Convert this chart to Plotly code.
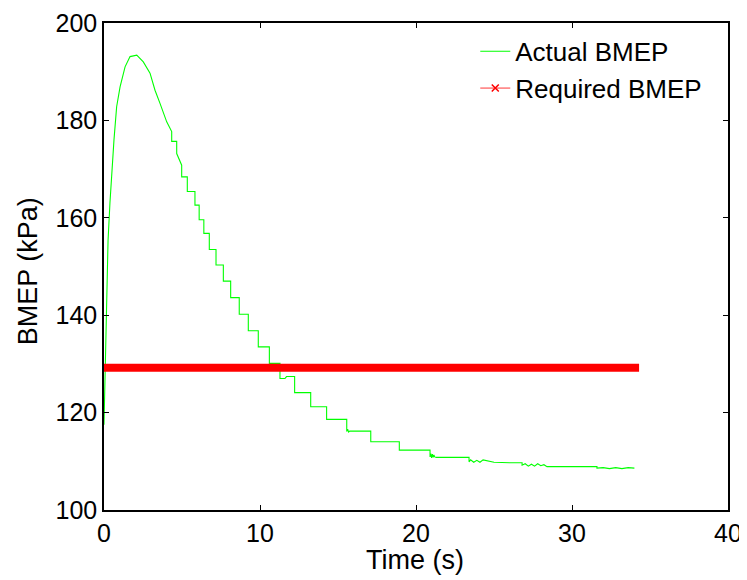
import plotly.graph_objects as go

# ---- data ----
actual_time = [
    0.0, 0.05, 0.10, 0.18, 0.26, 0.38, 0.49, 0.64, 0.81, 1.03, 1.35, 1.67, 2.10,
    2.52, 2.95, 3.27, 3.59, 4.02,
    4.34, 4.34, 4.66, 4.66, 4.98, 4.98, 5.34, 5.34, 5.83, 5.83, 6.10, 6.10,
    6.40, 6.40, 6.75, 6.75, 7.18, 7.18, 7.65, 7.65, 8.12, 8.12, 8.67, 8.67,
    9.25, 9.25, 9.89, 9.89, 10.60, 10.60, 11.28, 11.28, 11.60, 11.70,
    12.22, 12.22, 13.25, 13.25, 14.27, 14.27, 15.56, 15.56, 15.62, 15.68, 15.75,
    17.10, 17.10, 18.93, 18.93,
    20.90, 20.90, 20.95, 21.00, 21.05, 21.10, 21.15, 21.20, 21.30,
    23.40, 23.40, 23.50, 23.70, 23.90, 24.10, 24.30, 25.00, 26.00, 26.80,
    26.80, 27.00, 27.20, 27.40, 27.60, 27.80, 28.00, 28.20, 28.40,
    28.40, 31.60,
    31.60, 32.00, 32.40, 32.80, 33.20, 33.60, 34.00,
]
actual_bmep = [
    117.5, 125.0, 135.0, 147.0, 155.4, 163.0, 169.1, 176.0, 182.8, 186.9, 191.0, 193.1, 193.4,
    192.0, 189.7, 186.2, 183.5, 179.7,
    177.7, 175.7, 175.7, 173.2, 170.8, 168.4, 168.4, 165.4, 165.4, 162.6, 162.6, 159.6,
    159.6, 156.8, 156.8, 153.5, 153.5, 150.3, 150.3, 147.0, 147.0, 143.6, 143.6, 140.2,
    140.2, 136.8, 136.8, 133.5, 133.5, 130.1, 130.1, 127.0, 127.0, 127.4,
    127.4, 124.1, 124.1, 121.2, 121.2, 118.6, 118.6, 116.1, 116.6, 116.0, 116.2,
    116.2, 114.0, 114.0, 112.3,
    112.3, 110.9, 111.6, 110.7, 111.5, 110.8, 111.3, 110.9, 110.8,
    110.8, 109.9, 110.3, 109.8, 110.2, 109.8, 110.3, 109.8, 109.7, 109.7,
    109.2, 109.5, 109.0, 109.4, 109.0, 109.5, 109.1, 109.3, 108.9,
    108.9, 108.9,
    108.6, 108.7, 108.5, 108.7, 108.5, 108.7, 108.6,
]
required_time = [0.0, 34.3]
required_bmep = [129.2, 129.2]

x_ticks = [0, 10, 20, 30, 40]
y_ticks = [100, 120, 140, 160, 180, 200]

FONT = "Liberation Sans, Arial, sans-serif"

fig = go.Figure()
fig.add_trace(go.Scatter(
    x=actual_time, y=actual_bmep, mode="lines", name="Actual BMEP",
    line=dict(color="#00FF00", width=1.1),
))
fig.add_trace(go.Scatter(
    x=required_time, y=required_bmep, mode="lines", showlegend=False,
    line=dict(color="#FF0000", width=8),
))
# legend proxy for required BMEP (thin line with x marker)
fig.add_trace(go.Scatter(
    x=[None], y=[None], mode="lines+markers", name="Required BMEP",
    line=dict(color="#FF0000", width=0.8),
    marker=dict(symbol="x-thin", size=7, color="#FF0000",
                line=dict(color="#FF0000", width=1.5)),
))

axis_common = dict(
    showline=True, linecolor="black", linewidth=1.5, mirror="ticks",
    ticks="inside", ticklen=5, tickwidth=1, tickcolor="black",
    showgrid=False, zeroline=False, automargin=False,
    tickfont=dict(family=FONT, size=25, color="black"),
)

# the page body adds an 8px offset, so the figure is sized to fit the window
fig.update_layout(
    width=739, height=572,
    paper_bgcolor="white", plot_bgcolor="white",
    margin=dict(l=96, r=19, t=15, b=70),
    font=dict(family=FONT, color="black"),
    xaxis=dict(range=[0, 40], tickvals=x_ticks, **axis_common),
    yaxis=dict(range=[100, 200], tickvals=y_ticks, **axis_common),
    legend=dict(x=0.595, y=0.99, xanchor="left", yanchor="top",
                bgcolor="rgba(255,255,255,0)", borderwidth=0,
                font=dict(family=FONT, size=26, color="black"),
                tracegroupgap=0),
    annotations=[
        dict(text="Time (s)", xref="paper", yref="paper", x=0.498, y=-0.103,
             xanchor="center", yanchor="middle", showarrow=False,
             font=dict(family=FONT, size=27, color="black")),
        dict(text="BMEP (kPa)", xref="paper", yref="paper", x=-0.122, y=0.49,
             xanchor="center", yanchor="middle", showarrow=False, textangle=-90,
             font=dict(family=FONT, size=27, color="black")),
    ],
)

fig.write_html("out.html")
